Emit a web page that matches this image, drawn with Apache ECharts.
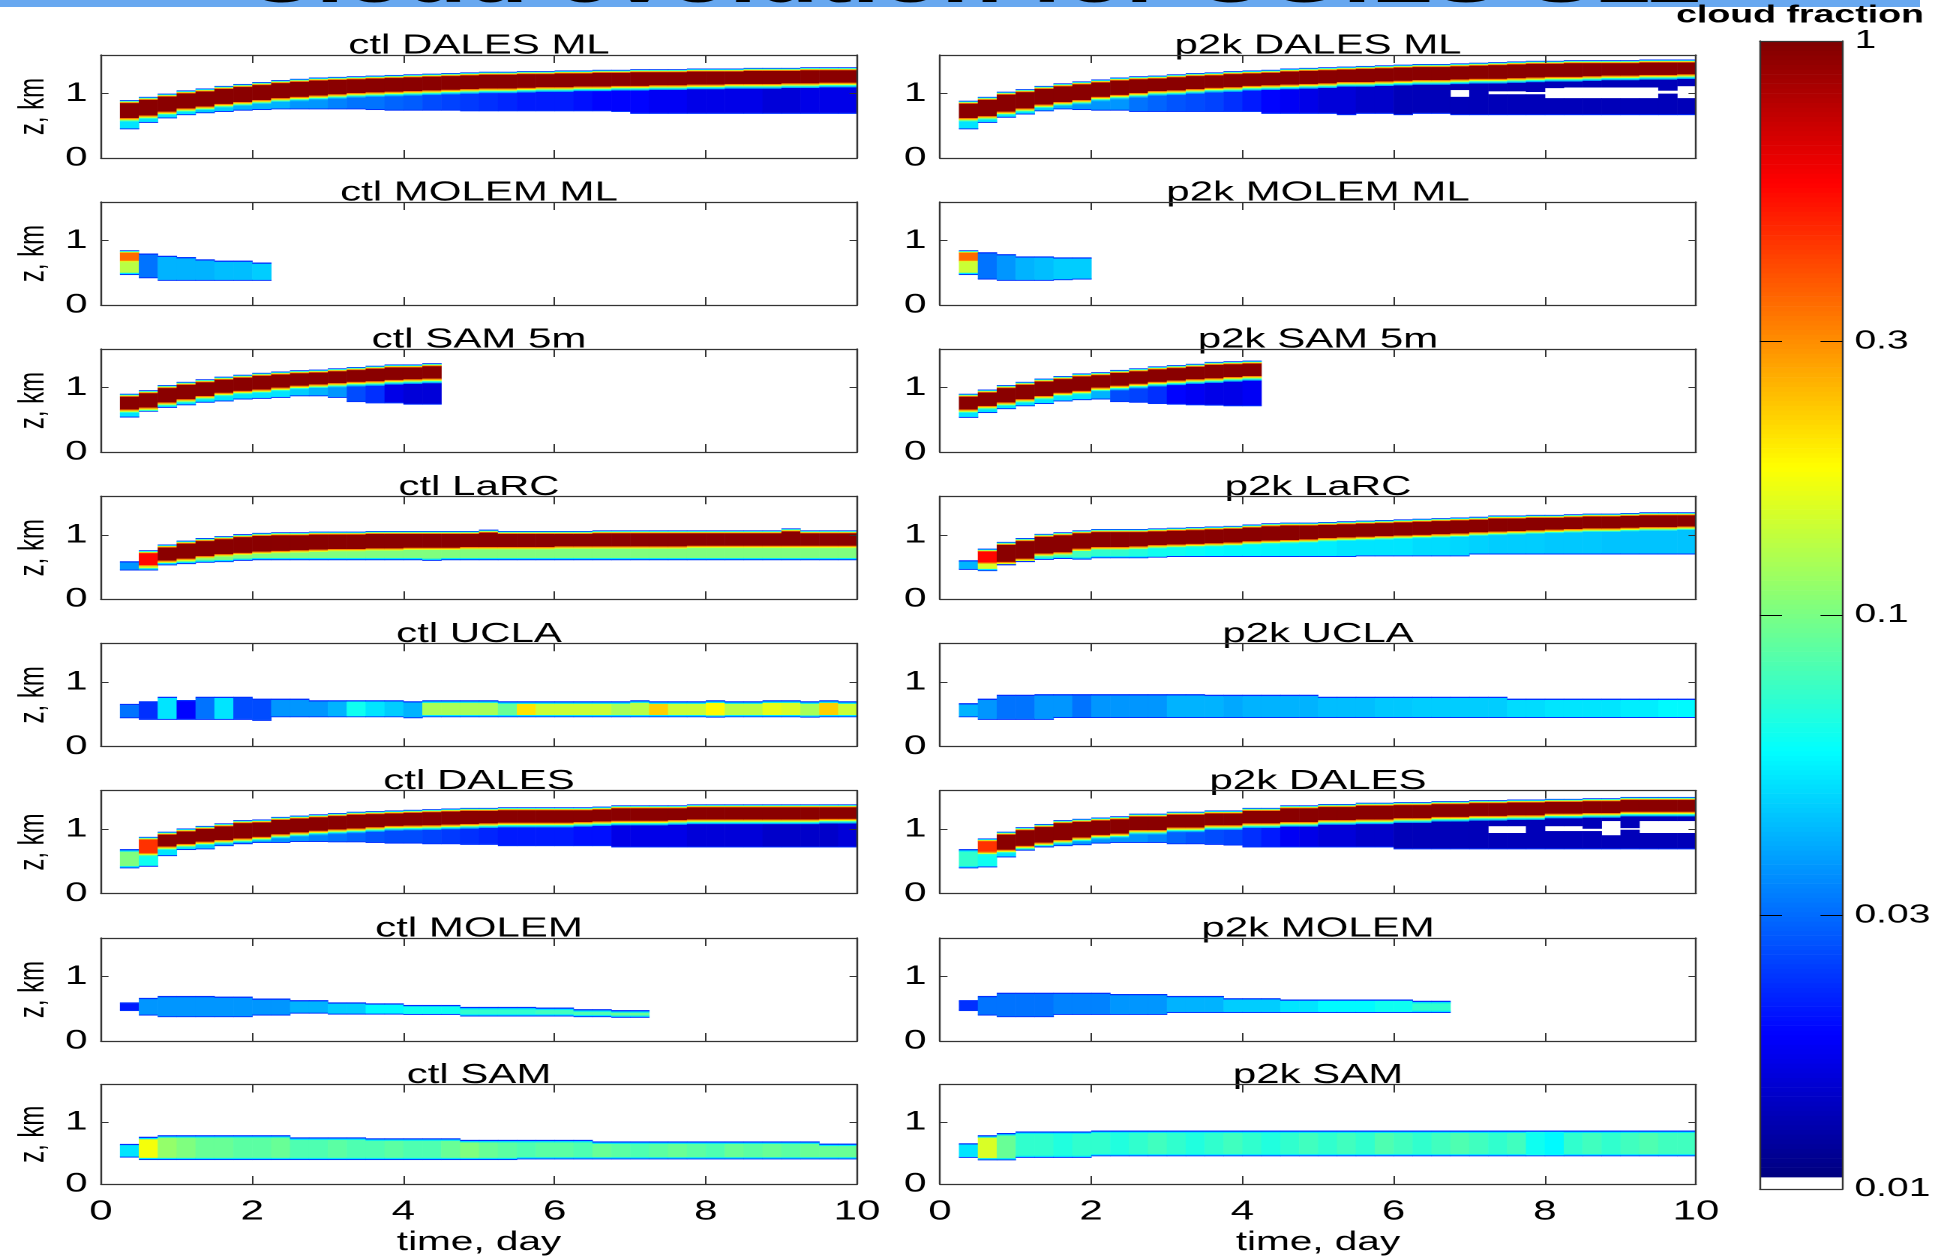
<!DOCTYPE html>
<html><head><meta charset="utf-8">
<script src="https://cdn.jsdelivr.net/npm/echarts@6/dist/echarts.min.js"></script>
<style>
html,body{margin:0;padding:0;background:#fff;overflow:hidden}
#wrap{width:1948px;height:1257px;overflow:hidden;position:relative;background:#fff}
#chart{position:absolute;left:0;top:0;width:1298.6667px;height:1257px;transform:scaleX(1.5);transform-origin:0 0}
</style></head>
<body><div id="wrap"><div id="chart"></div></div>
<script>
// ---------------- DATA ----------------
// time-bin edges, days (6-hourly output)
const timeEdges = [0.25,0.5,0.75,1,1.25,1.5,1.75,2,2.25,2.5,2.75,3,3.25,3.5,3.75,4,4.25,4.5,4.75,5,5.25,5.5,5.75,6,6.25,6.5,6.75,7,7.25,7.5,7.75,8,8.25,8.5,8.75,9,9.25,9.5,9.75,10];
const xTickValues = [0,2,4,6,8,10];
const yTickValues = [0,1];
const cbTickValues = [0.01,0.03,0.1,0.3,1];
const cbTickLabels = ['0.01','0.03','0.1','0.3','1'];
const panelTitles = ['ctl DALES ML','p2k DALES ML','ctl MOLEM ML','p2k MOLEM ML','ctl SAM 5m','p2k SAM 5m','ctl LaRC','p2k LaRC','ctl UCLA','p2k UCLA','ctl DALES','p2k DALES','ctl MOLEM','p2k MOLEM','ctl SAM','p2k SAM'];
// cloud fraction of the overcast core (dark red) and of the thin edges
const coreCloudFraction = 0.95;
const topEdgeFractions = [0.022,0.06,0.15,0.35];      // from cloud top downward
const belowCoreFractions = [0.3,0.15,0.07,0.04];      // from core bottom downward

// per panel: cloud top (km), bottom of overcast core (km), cloud base (km), cloud fraction of the lower/main layer
const ctlDalesMlTop  = [0.90,0.95,1.00,1.05,1.08,1.12,1.15,1.18,1.21,1.23, 1.25,1.26,1.27,1.28,1.29,1.30,1.31,1.32,1.33,1.34, 1.34,1.35,1.35,1.36,1.36,1.37,1.37,1.38,1.38,1.38, 1.39,1.39,1.39,1.40,1.40,1.40,1.41,1.41,1.41];
const ctlDalesMlCore = [0.62,0.66,0.72,0.77,0.80,0.84,0.87,0.90,0.93,0.95, 0.97,0.99,1.01,1.02,1.03,1.04,1.05,1.06,1.07,1.08, 1.08,1.09,1.10,1.10,1.11,1.11,1.12,1.12,1.13,1.13, 1.14,1.14,1.15,1.15,1.15,1.16,1.16,1.17,1.17];
const ctlDalesMlBase = [0.45,0.55,0.62,0.67,0.70,0.72,0.74,0.75,0.76,0.76, 0.76,0.76,0.76,0.75,0.74,0.74,0.74,0.74,0.73,0.73, 0.73,0.73,0.73,0.73,0.73,0.73,0.72,0.69,0.69,0.69, 0.69,0.69,0.69,0.69,0.69,0.69,0.69,0.69,0.69];
const ctlDalesMlLow  = [0.05,0.05,0.05,0.05,0.045,0.045,0.04,0.04,0.04,0.035, 0.035,0.032,0.03,0.03,0.028,0.027,0.025,0.024,0.023,0.022, 0.021,0.02,0.02,0.02,0.019,0.018,0.018,0.018,0.017,0.017, 0.016,0.016,0.016,0.016,0.015,0.015,0.016,0.016,0.016];

const p2kDalesMlTop  = [0.89,0.95,1.03,1.07,1.12,1.16,1.19,1.22,1.25,1.27, 1.28,1.30,1.32,1.33,1.35,1.36,1.37,1.39,1.40,1.41, 1.42,1.43,1.44,1.45,1.46,1.46,1.47,1.48,1.49,1.50, 1.51,1.51,1.52,1.52,1.52,1.52,1.53,1.53,1.53];
const p2kDalesMlCore = [0.62,0.65,0.72,0.77,0.83,0.87,0.90,0.95,0.98,1.01, 1.04,1.05,1.07,1.09,1.10,1.12,1.13,1.14,1.15,1.16, 1.18,1.18,1.19,1.20,1.21,1.21,1.22,1.23,1.23,1.24, 1.25,1.26,1.26,1.27,1.28,1.28,1.29,1.29,1.30];
const p2kDalesMlBase = [0.45,0.55,0.63,0.68,0.73,0.76,0.75,0.74,0.74,0.72, 0.72,0.72,0.72,0.72,0.72,0.72,0.69,0.69,0.69,0.69, 0.67,0.69,0.69,0.67,0.69,0.69,0.67,0.67,0.67,0.67, 0.67,0.67,0.67,0.67,0.67,0.67,0.67,0.67,0.67];
const p2kDalesMlLow  = [0.05,0.05,0.05,0.05,0.045,0.04,0.035,0.035,0.035,0.03, 0.028,0.026,0.025,0.024,0.022,0.02,0.018,0.017,0.016,0.015, 0.015,0.014,0.014,0.013,0.013,0.013,0.013,0.013,0.013,0.013, 0.013,0.013,0.013,0.013,0.013,0.013,0.013,0.013,0.013];
const p2kDalesMlGapLo = [null,null,null,null,null,null,null,null,null,null, null,null,null,null,null,null,null,null,null,null, null,null,null,null,null,null,0.95,null,0.99,0.99, 0.99,0.93,0.93,0.93,0.93,0.93,0.93,1.00,0.93];
const p2kDalesMlGapHi = [null,null,null,null,null,null,null,null,null,null, null,null,null,null,null,null,null,null,null,null, null,null,null,null,null,null,1.06,null,1.04,1.04, 1.03,1.09,1.10,1.10,1.10,1.10,1.10,1.05,1.12];

const ctlMolemMlTop  = [0.85,0.80,0.765,0.745,0.71,0.69,0.69,0.66];
const ctlMolemMlCore = [0.70,null,null,null,null,null,null,null];
const ctlMolemMlPeak = [0.35];
const ctlMolemMlBase = [0.47,0.42,0.38,0.38,0.38,0.38,0.38,0.38];
const ctlMolemMlLow  = [0.13,0.03,0.04,0.04,0.04,0.042,0.042,0.045];

const p2kMolemMlTop  = [0.85,0.82,0.79,0.755,0.755,0.74,0.74];
const p2kMolemMlCore = [0.70,null,null,null,null,null,null];
const p2kMolemMlPeak = [0.35];
const p2kMolemMlBase = [0.47,0.40,0.38,0.38,0.38,0.39,0.40];
const p2kMolemMlLow  = [0.14,0.03,0.035,0.04,0.042,0.045,0.045];

const ctlSam5mTop  = [0.905,0.96,1.04,1.09,1.13,1.17,1.20,1.23,1.25,1.27,1.28,1.30,1.32,1.34,1.36,1.36,1.38];
const ctlSam5mCore = [0.66,0.69,0.77,0.82,0.87,0.92,0.95,0.97,1.00,1.03,1.05,1.07,1.09,1.10,1.12,1.13,1.14];
const ctlSam5mBase = [0.54,0.63,0.69,0.73,0.77,0.79,0.82,0.83,0.845,0.87,0.87,0.845,0.78,0.76,0.76,0.74,0.74];
const ctlSam5mLow  = [0.05,0.05,0.05,0.05,0.05,0.05,0.05,0.05,0.05,0.045,0.04,0.035,0.025,0.022,0.016,0.015,0.015];

const p2kSam5mTop  = [0.905,0.97,1.04,1.09,1.14,1.18,1.22,1.24,1.275,1.30,1.33,1.35,1.37,1.40,1.41,1.42];
const p2kSam5mCore = [0.66,0.715,0.77,0.82,0.87,0.92,0.95,1.00,1.03,1.06,1.09,1.11,1.13,1.145,1.165,1.18];
const p2kSam5mBase = [0.535,0.61,0.67,0.715,0.75,0.79,0.81,0.82,0.78,0.77,0.75,0.74,0.73,0.725,0.715,0.715];
const p2kSam5mLow  = [0.05,0.05,0.05,0.05,0.05,0.05,0.05,0.04,0.025,0.024,0.022,0.018,0.017,0.016,0.016,0.017];

const ctlLarcTop  = [0.59,0.76,0.85,0.91,0.95,0.98,1.01,1.03,1.04,1.04, 1.05,1.05,1.05,1.06,1.06,1.06,1.06,1.06,1.06,1.08, 1.06,1.06,1.06,1.06,1.06,1.07,1.07,1.07,1.07,1.07, 1.07,1.07,1.07,1.07,1.07,1.10,1.07,1.07,1.07];
const ctlLarcCore = [null,0.53,0.60,0.63,0.67,0.70,0.72,0.74,0.75,0.76, 0.77,0.78,0.78,0.79,0.79,0.80,0.80,0.80,0.81,0.81, 0.81,0.81,0.81,0.82,0.82,0.82,0.82,0.82,0.82,0.82, 0.83,0.83,0.83,0.83,0.83,0.83,0.83,0.83,0.83];
const ctlLarcPeak = [null,0.55];
const ctlLarcBase = [0.45,0.45,0.53,0.55,0.57,0.58,0.60,0.61,0.61,0.61, 0.61,0.61,0.61,0.61,0.61,0.61,0.60,0.61,0.61,0.61, 0.61,0.61,0.61,0.61,0.61,0.61,0.61,0.61,0.61,0.61, 0.61,0.61,0.61,0.61,0.61,0.61,0.61,0.61,0.61];
const ctlLarcLow  = [0.035,0.15,0.1,0.1,0.1,0.1,0.1,0.1,0.1,0.1, 0.1,0.1,0.1,0.1,0.1,0.1,0.1,0.1,0.1,0.1, 0.1,0.1,0.1,0.1,0.1,0.1,0.1,0.1,0.1,0.1, 0.1,0.1,0.1,0.1,0.1,0.1,0.1,0.1,0.1];

const p2kLarcTop  = [0.605,0.785,0.89,0.95,1.015,1.04,1.07,1.09,1.09,1.09, 1.10,1.11,1.12,1.13,1.14,1.16,1.18,1.19,1.19,1.20, 1.21,1.22,1.23,1.24,1.25,1.26,1.27,1.28,1.30,1.30, 1.31,1.31,1.32,1.33,1.33,1.34,1.35,1.35,1.35];
const p2kLarcCore = [null,0.57,0.58,0.63,0.71,0.73,0.785,0.81,0.81,0.82, 0.84,0.85,0.86,0.87,0.88,0.90,0.91,0.92,0.93,0.95, 0.96,0.97,0.98,0.99,1.00,1.01,1.02,1.04,1.05,1.06, 1.07,1.08,1.09,1.10,1.10,1.11,1.12,1.12,1.13];
const p2kLarcPeak = [null,0.55];
const p2kLarcBase = [0.46,0.44,0.53,0.58,0.615,0.63,0.62,0.64,0.64,0.64, 0.65,0.66,0.66,0.66,0.66,0.66,0.66,0.66,0.66,0.66, 0.66,0.67,0.67,0.67,0.67,0.67,0.67,0.70,0.70,0.70, 0.70,0.70,0.70,0.70,0.70,0.70,0.70,0.70,0.70];
const p2kLarcLow  = [0.04,0.15,0.1,0.09,0.08,0.08,0.075,0.07,0.07,0.065, 0.06,0.06,0.058,0.056,0.055,0.055,0.054,0.053,0.052,0.052, 0.05,0.05,0.05,0.05,0.048,0.048,0.047,0.046,0.045,0.045, 0.045,0.044,0.044,0.044,0.043,0.043,0.043,0.043,0.043];

const ctlUclaTop  = [0.66,0.70,0.77,0.72,0.77,0.77,0.77,0.74,0.74,0.74, 0.715,0.715,0.715,0.715,0.715,0.70,0.715,0.715,0.715,0.715, 0.70,0.70,0.70,0.70,0.70,0.70,0.70,0.715,0.70,0.70, 0.70,0.715,0.70,0.70,0.715,0.715,0.70,0.715,0.70];
const ctlUclaBase = [0.44,0.415,0.415,0.415,0.415,0.415,0.415,0.40,0.455,0.455, 0.455,0.455,0.455,0.455,0.455,0.44,0.455,0.455,0.455,0.455, 0.455,0.455,0.455,0.455,0.455,0.455,0.455,0.455,0.455,0.455, 0.455,0.45,0.455,0.455,0.455,0.455,0.45,0.455,0.455];
const ctlUclaLow  = [0.03,0.022,0.05,0.018,0.03,0.05,0.025,0.025,0.035,0.035, 0.035,0.04,0.06,0.05,0.045,0.04,0.12,0.12,0.12,0.12, 0.09,0.2,0.14,0.14,0.14,0.14,0.12,0.13,0.22,0.14, 0.14,0.18,0.13,0.13,0.16,0.15,0.12,0.22,0.14];

const p2kUclaTop  = [0.67,0.74,0.80,0.80,0.81,0.81,0.81,0.81,0.81,0.81, 0.81,0.81,0.81,0.80,0.80,0.80,0.80,0.80,0.80,0.77, 0.77,0.77,0.77,0.77,0.77,0.77,0.77,0.77,0.77,0.74, 0.74,0.74,0.74,0.74,0.74,0.74,0.74,0.74,0.74];
const p2kUclaBase = [0.455,0.415,0.415,0.415,0.415,0.445,0.445,0.445,0.445,0.445, 0.445,0.445,0.445,0.445,0.445,0.445,0.445,0.445,0.445,0.445, 0.445,0.445,0.445,0.445,0.445,0.445,0.445,0.445,0.445,0.445, 0.445,0.445,0.445,0.445,0.445,0.445,0.445,0.445,0.445];
const p2kUclaLow  = [0.04,0.035,0.03,0.03,0.035,0.035,0.03,0.035,0.035,0.035, 0.035,0.04,0.04,0.04,0.038,0.04,0.04,0.04,0.04,0.042, 0.042,0.042,0.044,0.044,0.045,0.045,0.045,0.045,0.045,0.048, 0.048,0.05,0.05,0.05,0.05,0.052,0.052,0.055,0.055];

const ctlDalesTop  = [0.69,0.88,0.96,1.01,1.05,1.09,1.14,1.15,1.19,1.21, 1.23,1.25,1.27,1.28,1.29,1.30,1.31,1.32,1.33,1.33, 1.34,1.34,1.34,1.34,1.34,1.35,1.37,1.37,1.37,1.37, 1.385,1.385,1.385,1.385,1.385,1.385,1.385,1.385,1.385];
const ctlDalesCore = [null,0.63,0.73,0.77,0.805,0.83,0.855,0.88,0.92,0.95, 0.975,0.995,1.01,1.03,1.05,1.055,1.06,1.07,1.08,1.09, 1.10,1.10,1.10,1.10,1.11,1.12,1.13,1.13,1.13,1.14, 1.15,1.15,1.15,1.15,1.15,1.15,1.15,1.16,1.16];
const ctlDalesPeak = [null,0.45];
const ctlDalesBase = [0.395,0.42,0.585,0.68,0.69,0.74,0.77,0.79,0.79,0.805, 0.805,0.80,0.80,0.79,0.78,0.78,0.77,0.77,0.76,0.76, 0.74,0.74,0.74,0.74,0.74,0.74,0.72,0.72,0.72,0.72, 0.72,0.72,0.72,0.72,0.72,0.72,0.72,0.72,0.72];
const ctlDalesLow  = [0.1,0.06,0.05,0.05,0.045,0.04,0.035,0.035,0.035,0.035, 0.032,0.03,0.028,0.026,0.025,0.025,0.024,0.023,0.022,0.021, 0.02,0.02,0.02,0.02,0.019,0.019,0.016,0.016,0.016,0.016, 0.015,0.015,0.015,0.015,0.014,0.014,0.014,0.014,0.015];

const p2kDalesTop  = [0.69,0.855,0.96,1.03,1.08,1.14,1.16,1.18,1.20,1.24, 1.24,1.27,1.27,1.29,1.29,1.33,1.33,1.37,1.37,1.39, 1.39,1.41,1.41,1.42,1.42,1.435,1.435,1.45,1.45,1.46, 1.46,1.47,1.47,1.48,1.48,1.50,1.50,1.50,1.50];
const p2kDalesCore = [null,0.65,0.68,0.74,0.79,0.83,0.87,0.91,0.93,0.985, 0.985,1.025,1.025,1.06,1.06,1.09,1.09,1.11,1.11,1.14, 1.14,1.15,1.15,1.17,1.17,1.19,1.19,1.205,1.205,1.215, 1.215,1.24,1.24,1.25,1.25,1.27,1.27,1.27,1.27];
const p2kDalesPeak = [null,0.45];
const p2kDalesBase = [0.395,0.41,0.565,0.67,0.72,0.74,0.755,0.78,0.79,0.79, 0.79,0.77,0.77,0.76,0.75,0.72,0.72,0.72,0.72,0.72, 0.72,0.72,0.72,0.69,0.69,0.69,0.69,0.69,0.69,0.69, 0.69,0.69,0.69,0.69,0.69,0.69,0.69,0.69,0.69];
const p2kDalesLow  = [0.07,0.06,0.05,0.05,0.045,0.04,0.035,0.035,0.035,0.035, 0.032,0.028,0.026,0.025,0.024,0.022,0.02,0.017,0.016,0.015, 0.015,0.014,0.014,0.013,0.013,0.013,0.013,0.013,0.013,0.013, 0.013,0.013,0.013,0.013,0.013,0.013,0.013,0.013,0.013];
const p2kDalesGapLo = [null,null,null,null,null,null,null,null,null,null, null,null,null,null,null,null,null,null,null,null, null,null,null,null,null,null,null,null,0.94,0.94, null,0.97,0.97,0.97,0.905,0.99,0.94,0.94,0.94];
const p2kDalesGapHi = [null,null,null,null,null,null,null,null,null,null, null,null,null,null,null,null,null,null,null,null, null,null,null,null,null,null,null,null,1.05,1.05, null,1.05,1.05,1.01,1.13,1.02,1.13,1.13,1.13];

const ctlMolemTop  = [0.60,0.67,0.70,0.70,0.70,0.69,0.69,0.66,0.66,0.635, 0.635,0.60,0.60,0.585,0.585,0.56,0.56,0.56,0.53,0.53, 0.53,0.53,0.52,0.52,0.495,0.495,0.48,0.48];
const ctlMolemBase = [0.47,0.40,0.375,0.375,0.375,0.375,0.375,0.40,0.40,0.43, 0.43,0.415,0.415,0.415,0.415,0.41,0.41,0.41,0.385,0.385, 0.385,0.385,0.385,0.385,0.375,0.375,0.365,0.365];
const ctlMolemLow  = [0.02,0.035,0.035,0.035,0.035,0.035,0.035,0.035,0.035,0.04, 0.04,0.045,0.045,0.055,0.055,0.06,0.06,0.06,0.07,0.07, 0.07,0.07,0.075,0.075,0.08,0.08,0.09,0.09];

const p2kMolemTop  = [0.635,0.70,0.75,0.75,0.75,0.75,0.75,0.75,0.73,0.73, 0.73,0.70,0.70,0.70,0.665,0.665,0.665,0.645,0.645,0.645, 0.645,0.645,0.645,0.645,0.625,0.625];
const p2kMolemBase = [0.47,0.40,0.375,0.375,0.375,0.41,0.41,0.41,0.41,0.41, 0.41,0.44,0.44,0.44,0.44,0.44,0.44,0.44,0.44,0.44, 0.44,0.44,0.44,0.44,0.44,0.44];
const p2kMolemLow  = [0.022,0.03,0.03,0.03,0.03,0.032,0.032,0.032,0.035,0.035, 0.035,0.04,0.04,0.04,0.045,0.045,0.045,0.05,0.05,0.055, 0.055,0.055,0.06,0.06,0.07,0.07];

const ctlSamTop  = [0.645,0.76,0.785,0.785,0.785,0.785,0.785,0.785,0.785,0.75, 0.75,0.75,0.75,0.735,0.735,0.735,0.735,0.735,0.71,0.71, 0.71,0.71,0.71,0.71,0.71,0.685,0.685,0.685,0.685,0.685, 0.685,0.685,0.685,0.685,0.685,0.685,0.685,0.65,0.65];
const ctlSamBase = [0.43,0.39,0.39,0.39,0.39,0.39,0.39,0.39,0.39,0.39, 0.39,0.39,0.39,0.39,0.39,0.39,0.39,0.39,0.39,0.39, 0.39,0.40,0.40,0.40,0.40,0.40,0.40,0.40,0.40,0.40, 0.40,0.40,0.40,0.40,0.40,0.40,0.40,0.40,0.40];
const ctlSamLow  = [0.05,0.17,0.11,0.1,0.09,0.09,0.085,0.085,0.09,0.08, 0.08,0.085,0.08,0.08,0.085,0.08,0.08,0.09,0.1,0.09, 0.085,0.08,0.085,0.085,0.08,0.09,0.085,0.08,0.085,0.09, 0.085,0.08,0.09,0.085,0.09,0.085,0.09,0.09,0.09];

const p2kSamTop  = [0.655,0.785,0.82,0.845,0.845,0.845,0.845,0.86,0.86,0.86, 0.86,0.86,0.86,0.86,0.86,0.86,0.86,0.86,0.86,0.86, 0.86,0.86,0.86,0.86,0.86,0.86,0.86,0.86,0.86,0.86, 0.86,0.86,0.86,0.86,0.86,0.86,0.86,0.86,0.86];
const p2kSamBase = [0.425,0.385,0.385,0.425,0.425,0.425,0.425,0.45,0.45,0.45, 0.45,0.45,0.45,0.45,0.45,0.45,0.45,0.45,0.45,0.45, 0.45,0.45,0.45,0.45,0.45,0.45,0.45,0.45,0.45,0.45, 0.45,0.45,0.45,0.45,0.45,0.45,0.45,0.45,0.45];
const p2kSamLow  = [0.05,0.15,0.09,0.07,0.07,0.065,0.07,0.07,0.065,0.07, 0.075,0.07,0.065,0.07,0.075,0.07,0.065,0.07,0.075,0.07, 0.075,0.07,0.08,0.075,0.07,0.075,0.08,0.075,0.07,0.075, 0.06,0.055,0.07,0.075,0.07,0.075,0.08,0.075,0.075];

// ---------------- LAYOUT / STYLE ----------------
const S = 1.5;                        // horizontal stretch of the original figure
const X = px => px / S;
const FONT = '"Liberation Sans", Arial, Helvetica, sans-serif';
const LINE = '#333';
const COL_LEFT = [101, 940], PANEL_W = 756, PANEL_H = 103;
const ROW_TOP = [55, 202, 349, 496.2, 643.3, 790.5, 938, 1084.5];
const JET = ['#00007f','#0000ff','#007fff','#00ffff','#7fff7f','#ffff00','#ff7f00','#ff0000','#7f0000'];
const EDGE_DZ = 0.012, TRANS_DZ = 0.018;

const panels = [
  {top: ctlDalesMlTop, core: ctlDalesMlCore, base: ctlDalesMlBase, low: ctlDalesMlLow},
  {top: p2kDalesMlTop, core: p2kDalesMlCore, base: p2kDalesMlBase, low: p2kDalesMlLow, gapLo: p2kDalesMlGapLo, gapHi: p2kDalesMlGapHi},
  {top: ctlMolemMlTop, core: ctlMolemMlCore, peak: ctlMolemMlPeak, base: ctlMolemMlBase, low: ctlMolemMlLow},
  {top: p2kMolemMlTop, core: p2kMolemMlCore, peak: p2kMolemMlPeak, base: p2kMolemMlBase, low: p2kMolemMlLow},
  {top: ctlSam5mTop, core: ctlSam5mCore, base: ctlSam5mBase, low: ctlSam5mLow},
  {top: p2kSam5mTop, core: p2kSam5mCore, base: p2kSam5mBase, low: p2kSam5mLow},
  {top: ctlLarcTop, core: ctlLarcCore, peak: ctlLarcPeak, base: ctlLarcBase, low: ctlLarcLow},
  {top: p2kLarcTop, core: p2kLarcCore, peak: p2kLarcPeak, base: p2kLarcBase, low: p2kLarcLow},
  {top: ctlUclaTop, base: ctlUclaBase, low: ctlUclaLow},
  {top: p2kUclaTop, base: p2kUclaBase, low: p2kUclaLow},
  {top: ctlDalesTop, core: ctlDalesCore, peak: ctlDalesPeak, base: ctlDalesBase, low: ctlDalesLow},
  {top: p2kDalesTop, core: p2kDalesCore, peak: p2kDalesPeak, base: p2kDalesBase, low: p2kDalesLow, gapLo: p2kDalesGapLo, gapHi: p2kDalesGapHi},
  {top: ctlMolemTop, base: ctlMolemBase, low: ctlMolemLow},
  {top: p2kMolemTop, base: p2kMolemBase, low: p2kMolemLow},
  {top: ctlSamTop, base: ctlSamBase, low: ctlSamLow},
  {top: p2kSamTop, base: p2kSamBase, low: p2kSamLow}
];

// build the cells [t0, t1, z0, z1, log10(cf)] of one panel from its read values
function buildCells(p) {
  const cells = [];
  const n = p.top.length;
  for (let i = 0; i < n; i++) {
    const t0 = timeEdges[i], t1 = timeEdges[i + 1];
    const T = p.top[i], B = p.base[i], L = p.low[i];
    const C = p.core ? p.core[i] : null;
    const K = (p.peak && p.peak[i] != null) ? p.peak[i] : coreCloudFraction;
    const push = (z0, z1, cf) => { z0 = Math.max(z0, B); if (z1 - z0 > 1e-6) cells.push([t0, t1, z0, z1, Math.log10(cf)]); };
    let mainTop;
    if (C != null) {
      let z = T;
      topEdgeFractions.forEach(cf => { push(z - EDGE_DZ, z, cf); z -= EDGE_DZ; });
      push(C, z, K);
      let zb = C;
      belowCoreFractions.forEach(cf => { if (cf > L) { push(zb - TRANS_DZ, zb, cf); zb -= TRANS_DZ; } });
      mainTop = zb;
    } else {
      push(T - 0.02, T, 0.022); mainTop = T - 0.02;
      if (L > 0.06) { push(mainTop - 0.02, mainTop, 0.05); mainTop -= 0.02; }
    }
    const bottom = [[0.022, 0.015]];
    if (L > 0.06) bottom.push([0.05, 0.02]);
    let zb2 = B;
    bottom.forEach(([cf, h]) => { const zt = Math.min(zb2 + h, mainTop); if (zt > zb2) { cells.push([t0, t1, zb2, zt, Math.log10(cf)]); zb2 = zt; } });
    if (mainTop > zb2) {
      const gLo = p.gapLo ? p.gapLo[i] : null, gHi = p.gapHi ? p.gapHi[i] : null;
      if (gLo != null && gHi != null) {
        if (gLo > zb2) cells.push([t0, t1, zb2, Math.min(gLo, mainTop), Math.log10(L)]);
        if (mainTop > gHi) cells.push([t0, t1, Math.max(gHi, zb2), mainTop, Math.log10(L)]);
      } else {
        cells.push([t0, t1, zb2, mainTop, Math.log10(L)]);
      }
    }
  }
  return cells;
}

function renderCell(params, api) {
  const a = api.coord([api.value(0), api.value(3)]);
  const b = api.coord([api.value(1), api.value(2)]);
  const fill = api.value(4) < -2 ? '#ffffff' : api.visual('color');
  return {type: 'rect', shape: {x: a[0], y: a[1], width: b[0] - a[0] + 0.3, height: b[1] - a[1] + 0.3},
          style: {fill: fill}};
}

const grids = [], xAxes = [], yAxes = [], series = [], titles = [];
const axisLineStyle = {show: true, onZero: false, lineStyle: {color: LINE, width: 1.2}};
panels.forEach((p, k) => {
  const col = k % 2, row = Math.floor(k / 2);
  const bottomRow = row === 7;
  grids.push({left: X(COL_LEFT[col]), top: ROW_TOP[row], width: X(PANEL_W), height: PANEL_H});
  xAxes.push({gridIndex: k, type: 'value', min: 0, max: 10, interval: 2, position: 'bottom', z: 10,
    axisLine: axisLineStyle, axisTick: {show: true, inside: true, length: 8, lineStyle: {color: LINE}},
    axisLabel: {show: bottomRow, customValues: xTickValues, fontSize: 28, color: '#000', margin: 14, fontFamily: FONT},
    splitLine: {show: false},
    name: bottomRow ? 'time, day' : '', nameLocation: 'middle', nameGap: 45,
    nameTextStyle: {fontSize: 27, color: '#000', fontFamily: FONT}});
  xAxes.push({gridIndex: k, type: 'value', min: 0, max: 10, interval: 2, position: 'top', z: 10,
    axisLine: axisLineStyle, axisTick: {show: true, inside: true, length: 8, lineStyle: {color: LINE}},
    axisLabel: {show: false}, splitLine: {show: false}});
  yAxes.push({gridIndex: k, type: 'value', min: 0, max: 1.6, position: 'left', z: 10,
    axisLine: axisLineStyle, axisTick: {show: true, inside: true, length: 5, customValues: [1], lineStyle: {color: LINE}},
    axisLabel: {customValues: yTickValues, fontSize: 27, color: '#000', margin: 9, fontFamily: FONT},
    splitLine: {show: false},
    name: col === 0 ? 'z, km' : '', nameLocation: 'middle', nameGap: 33, nameRotate: 90,
    nameTextStyle: {fontSize: 24, color: '#000', fontFamily: FONT}});
  yAxes.push({gridIndex: k, type: 'value', min: 0, max: 1.6, position: 'right', z: 10,
    axisLine: axisLineStyle, axisTick: {show: true, inside: true, length: 5, customValues: [1], lineStyle: {color: LINE}},
    axisLabel: {show: false}, splitLine: {show: false}});
  series.push({type: 'custom', name: panelTitles[k], xAxisIndex: 2 * k, yAxisIndex: 2 * k, renderItem: renderCell,
    clip: true, silent: true, dimensions: ['t0', 't1', 'z0', 'z1', 'lcf'], encode: {x: [0, 1], y: [2, 3]},
    data: buildCells(p)});
  titles.push({text: panelTitles[k], left: X(COL_LEFT[col] + PANEL_W / 2), top: ROW_TOP[row] - 23, textAlign: 'center', padding: 0,
    textStyle: {fontSize: 28, fontWeight: 'normal', color: '#000', fontFamily: FONT}});
});

// colour bar (log10 of cloud fraction)
const cbLog = cbTickValues.map(v => Math.log10(v));
const cbIdx = panels.length;
grids.push({left: X(1760), top: 41, width: X(82.5), height: 1148});
xAxes.push({gridIndex: cbIdx, type: 'value', min: 0, max: 1, position: 'bottom', z: 10, axisLine: axisLineStyle, axisTick: {show: false}, axisLabel: {show: false}, splitLine: {show: false}});
xAxes.push({gridIndex: cbIdx, type: 'value', min: 0, max: 1, position: 'top', z: 10, axisLine: axisLineStyle, axisTick: {show: false}, axisLabel: {show: false}, splitLine: {show: false}});
yAxes.push({gridIndex: cbIdx, type: 'value', min: -2, max: 0, position: 'left', z: 10, axisLine: axisLineStyle,
  axisTick: {show: true, inside: true, length: X(22), customValues: cbLog.slice(1, 4), lineStyle: {color: '#000'}},
  axisLabel: {show: false}, splitLine: {show: false}});
yAxes.push({gridIndex: cbIdx, type: 'value', min: -2, max: 0, position: 'right', z: 10, axisLine: axisLineStyle,
  axisTick: {show: true, inside: true, length: X(22), customValues: cbLog.slice(1, 4), lineStyle: {color: '#000'}},
  axisLabel: {customValues: cbLog, fontSize: 26, color: '#000', margin: 8, fontFamily: FONT,
    formatter: v => { let best = 0; cbLog.forEach((c, j) => { if (Math.abs(c - v) < Math.abs(cbLog[best] - v)) best = j; }); return cbTickLabels[best]; }},
  splitLine: {show: false}});
const cbCells = [[0, 1, -2, -2 + 2 / 96, -9]];
const CB_STEPS = 240;
for (let i = 0; i < CB_STEPS; i++) {
  const z0 = -2 + 2 / 96 + (2 - 2 / 96) * i / CB_STEPS, z1 = -2 + 2 / 96 + (2 - 2 / 96) * (i + 1) / CB_STEPS;
  cbCells.push([0, 1, z0, z1, -2 + 2 * (i + 0.5) / CB_STEPS]);
}
series.push({type: 'custom', name: 'colorbar', xAxisIndex: 2 * cbIdx, yAxisIndex: 2 * cbIdx, renderItem: renderCell, clip: true, silent: true,
  dimensions: ['x0', 'x1', 'z0', 'z1', 'lcf'], encode: {x: [0, 1], y: [2, 3]}, data: cbCells});
titles.push({text: 'cloud fraction', left: X(1800), top: 3, textAlign: 'center', padding: 0,
  textStyle: {fontSize: 25, fontWeight: 'bold', color: '#000', fontFamily: FONT}});
// figure title, mostly cut off by the top edge of the picture
titles.push({text: 'Cloud evolution for CGILS S11', left: X(972), top: -50, textAlign: 'center', padding: 0, z: 20,
  textStyle: {fontSize: 67, fontWeight: 'bold', color: '#000', fontFamily: FONT}});

const chart = echarts.init(document.getElementById('chart'), null, {renderer: 'canvas', devicePixelRatio: 2});
chart.setOption({
  animation: false,
  backgroundColor: '#ffffff',
  textStyle: {fontFamily: FONT},
  title: titles,
  grid: grids,
  xAxis: xAxes,
  yAxis: yAxes,
  visualMap: {type: 'continuous', show: false, dimension: 4, min: -2, max: 0, inRange: {color: JET}, outOfRange: {color: '#ffffff'}},
  graphic: [
    {type: 'rect', z: 0, shape: {x: 0, y: 0, width: X(1920), height: 7}, style: {fill: '#68a8f0'}}
  ],
  series: series
});
</script>
</body></html>
